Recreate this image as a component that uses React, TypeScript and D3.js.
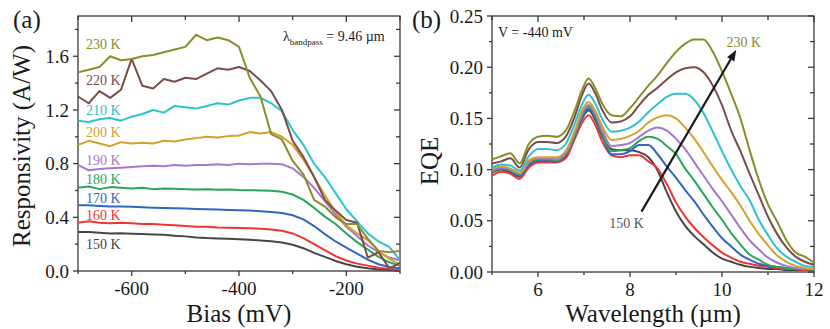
import React from "react";
import * as d3 from "d3";

// temperatures and their line colours
const temps = ["150 K", "160 K", "170 K", "180 K", "190 K", "200 K", "210 K", "220 K", "230 K"];
const colors = ["#464646", "#ef3535", "#3366c2", "#2aa55a", "#a678cc", "#d6a02d", "#2cc3cc", "#7c4b4b", "#8c8c2a"];

// (a) responsivity vs bias
const bias = [-700, -680, -660, -640, -620, -600, -580, -560, -540, -520, -500, -480, -460, -440, -420, -400,
  -380, -360, -340, -320, -300, -280, -260, -240, -220, -200, -180, -160, -140, -120, -100];

const r150 = [0.29, 0.29, 0.285, 0.28, 0.282, 0.278, 0.275, 0.272, 0.27, 0.262, 0.258, 0.25, 0.245, 0.243, 0.24, 0.236,
  0.232, 0.228, 0.222, 0.212, 0.195, 0.17, 0.135, 0.105, 0.075, 0.05, 0.032, 0.02, 0.012, 0.008, 0.005];
const r160 = [0.36, 0.37, 0.36, 0.355, 0.36, 0.355, 0.35, 0.35, 0.345, 0.34, 0.335, 0.33, 0.33, 0.325, 0.322, 0.32,
  0.318, 0.315, 0.31, 0.3, 0.28, 0.245, 0.2, 0.155, 0.11, 0.078, 0.055, 0.04, 0.025, 0.015, 0.01];
const r170 = [0.49, 0.49, 0.485, 0.48, 0.48, 0.478, 0.475, 0.472, 0.47, 0.468, 0.465, 0.462, 0.46, 0.458, 0.455, 0.452,
  0.45, 0.445, 0.44, 0.432, 0.415, 0.385, 0.335, 0.275, 0.22, 0.175, 0.13, 0.085, 0.05, 0.03, 0.02];
const r180 = [0.62, 0.63, 0.61, 0.625, 0.62, 0.615, 0.62, 0.61, 0.615, 0.612, 0.61, 0.608, 0.61, 0.605, 0.607, 0.603,
  0.602, 0.6, 0.598, 0.59, 0.57, 0.53, 0.47, 0.405, 0.35, 0.28, 0.215, 0.16, 0.105, 0.065, 0.04];
const r190 = [0.79, 0.75, 0.76, 0.765, 0.77, 0.775, 0.78, 0.785, 0.78, 0.79, 0.785, 0.79, 0.79, 0.795, 0.79, 0.8,
  0.795, 0.8, 0.8, 0.795, 0.765, 0.7, 0.62, 0.52, 0.42, 0.33, 0.26, 0.19, 0.14, 0.1, 0.08];
const r200 = [0.94, 0.97, 0.95, 0.93, 0.96, 0.95, 0.955, 0.95, 0.97, 0.965, 0.98, 0.99, 1.0, 0.995, 1.005, 1.01,
  1.035, 1.025, 1.035, 1.0, 0.94, 0.83, 0.7, 0.565, 0.44, 0.34, 0.28, 0.23, 0.15, 0.09, 0.05];
const r210 = [1.12, 1.11, 1.13, 1.14, 1.12, 1.15, 1.17, 1.2, 1.18, 1.23, 1.22, 1.21, 1.23, 1.25, 1.24, 1.27,
  1.29, 1.29, 1.25, 1.19, 1.05, 0.94, 0.8, 0.7, 0.58, 0.46, 0.37, 0.28, 0.22, 0.18, 0.08];
const r220 = [1.3, 1.25, 1.34, 1.29, 1.35, 1.58, 1.38, 1.36, 1.43, 1.41, 1.44, 1.43, 1.47, 1.51, 1.5, 1.52,
  1.49, 1.42, 1.34, 1.2, 0.97, 0.85, 0.7, 0.53, 0.45, 0.38, 0.36, 0.1, 0.14, 0.02, 0.06];
const r230 = [1.48, 1.5, 1.52, 1.6, 1.57, 1.58, 1.6, 1.61, 1.63, 1.65, 1.67, 1.76, 1.72, 1.74, 1.72, 1.67,
  1.44, 1.3, 1.02, 0.98, 0.82, 0.72, 0.53, 0.48, 0.4, 0.35, 0.35, 0.24, 0.15, 0.14, 0.15];
const resp = [r150, r160, r170, r180, r190, r200, r210, r220, r230];
// where each temperature label sits (A/W)
const labelAt = [0.163, 0.379, 0.505, 0.646, 0.788, 0.996, 1.159, 1.389, 1.657];

// (b) EQE vs wavelength at -440 mV
const wl = [5.0, 5.2, 5.4, 5.6, 5.8, 6.0, 6.2, 6.4, 6.6, 6.8, 6.95, 7.1, 7.25, 7.4, 7.6, 7.8, 8.0, 8.2, 8.4, 8.6,
  8.8, 9.0, 9.2, 9.4, 9.6, 9.8, 10.0, 10.2, 10.4, 10.6, 10.8, 11.0, 11.2, 11.4, 11.6, 11.8, 12.0];

const e150 = [0.097, 0.1, 0.097, 0.093, 0.104, 0.108, 0.108, 0.108, 0.113, 0.132, 0.149, 0.158, 0.148, 0.132,
  0.12, 0.119, 0.119, 0.117, 0.112, 0.099, 0.078, 0.059, 0.045, 0.035, 0.027, 0.019, 0.013, 0.01, 0.007, 0.005, 0.004, 0.003, 0.003, 0.002, 0.002, 0.002, 0.002];
const e160 = [0.094, 0.098, 0.096, 0.091, 0.102, 0.107, 0.107, 0.107, 0.111, 0.13, 0.145, 0.153, 0.143, 0.127,
  0.114, 0.112, 0.114, 0.114, 0.108, 0.101, 0.086, 0.068, 0.054, 0.043, 0.034, 0.026, 0.019, 0.014, 0.01, 0.008, 0.006, 0.005, 0.004, 0.003, 0.003, 0.002, 0.002];
const e170 = [0.098, 0.101, 0.098, 0.094, 0.105, 0.109, 0.109, 0.108, 0.114, 0.133, 0.15, 0.16, 0.15, 0.133,
  0.115, 0.115, 0.118, 0.124, 0.124, 0.115, 0.103, 0.092, 0.08, 0.069, 0.056, 0.044, 0.033, 0.025, 0.017, 0.012, 0.008, 0.006, 0.005, 0.004, 0.003, 0.003, 0.002];
const e180 = [0.098, 0.101, 0.099, 0.095, 0.106, 0.11, 0.11, 0.109, 0.115, 0.134, 0.152, 0.162, 0.152, 0.135,
  0.118, 0.119, 0.121, 0.128, 0.132, 0.13, 0.123, 0.115, 0.101, 0.089, 0.076, 0.063, 0.051, 0.038, 0.027, 0.017, 0.012, 0.007, 0.005, 0.004, 0.003, 0.003, 0.002];
const e190 = [0.099, 0.102, 0.1, 0.096, 0.107, 0.111, 0.111, 0.11, 0.116, 0.136, 0.154, 0.163, 0.154, 0.138,
  0.123, 0.124, 0.126, 0.132, 0.138, 0.141, 0.138, 0.13, 0.12, 0.107, 0.094, 0.081, 0.069, 0.056, 0.043, 0.031, 0.022, 0.014, 0.009, 0.006, 0.004, 0.003, 0.003];
const e200 = [0.101, 0.103, 0.101, 0.097, 0.109, 0.112, 0.112, 0.112, 0.118, 0.138, 0.157, 0.166, 0.157, 0.142,
  0.129, 0.13, 0.133, 0.138, 0.146, 0.151, 0.153, 0.15, 0.141, 0.13, 0.117, 0.103, 0.09, 0.078, 0.065, 0.05, 0.037, 0.026, 0.016, 0.01, 0.006, 0.004, 0.003];
const e210 = [0.102, 0.105, 0.104, 0.099, 0.113, 0.12, 0.12, 0.119, 0.125, 0.145, 0.163, 0.173, 0.164, 0.149,
  0.137, 0.138, 0.141, 0.147, 0.156, 0.164, 0.171, 0.174, 0.174, 0.168, 0.155, 0.137, 0.118, 0.1, 0.084, 0.07, 0.051, 0.036, 0.023, 0.015, 0.01, 0.006, 0.005];
const e220 = [0.106, 0.108, 0.111, 0.102, 0.12, 0.127, 0.127, 0.126, 0.132, 0.152, 0.172, 0.184, 0.174, 0.158,
  0.146, 0.147, 0.152, 0.163, 0.173, 0.18, 0.188, 0.195, 0.199, 0.2, 0.195, 0.182, 0.163, 0.138, 0.118, 0.096, 0.075, 0.054, 0.037, 0.024, 0.015, 0.01, 0.007];
const e230 = [0.11, 0.113, 0.116, 0.106, 0.125, 0.132, 0.133, 0.132, 0.138, 0.158, 0.177, 0.189, 0.179, 0.164,
  0.153, 0.152, 0.16, 0.171, 0.182, 0.192, 0.204, 0.215, 0.223, 0.227, 0.227, 0.215, 0.196, 0.174, 0.15, 0.119, 0.09, 0.066, 0.049, 0.031, 0.019, 0.015, 0.009];
const eqe = [e150, e160, e170, e180, e190, e200, e210, e220, e230];

// ticks
const biasTicks = [-600, -400, -200];
const biasMinor = [-700, -500, -300, -100];
const respTicks = [0, 0.4, 0.8, 1.2, 1.6];
const respMinor = [0.2, 0.6, 1.0, 1.4, 1.8];
const wlTicks = [6, 8, 10, 12];
const wlMinor = [5, 7, 9, 11];
const eqeTicks = [0, 0.05, 0.1, 0.15, 0.2, 0.25];
const eqeMinor = [0.025, 0.075, 0.125, 0.175, 0.225];

// arrow in panel (b), wavelength / EQE
const arrowFrom = [8.25, 0.059];
const arrowTo = [10.31, 0.217];

const axisColor = "#3a3a3a";
const ink = "#1a1a1a";

const xa = d3.scaleLinear().domain([-700, -100]).range([78, 400]);
const ya = d3.scaleLinear().domain([0, 1.9]).range([271, 16]);
const xb = d3.scaleLinear().domain([5, 12]).range([492, 814]);
const yb = d3.scaleLinear().domain([0, 0.25]).range([272, 16]);

function Frame({ x, y, xMajor, xMinor, yMajor, yMinor, xFmt, yFmt }) {
  const [x0, x1] = x.range();
  const [y0, y1] = y.range(); // y0 bottom, y1 top
  return (
    <g>
      <g stroke={axisColor} strokeWidth={1.3} fill="none">
        <rect x={x0} y={y1} width={x1 - x0} height={y0 - y1} />
        {xMajor.map(v => (
          <g key={"xm" + v}>
            <line x1={x(v)} x2={x(v)} y1={y0} y2={y0 + 5} />
            <line x1={x(v)} x2={x(v)} y1={y1} y2={y1 + 6} />
          </g>
        ))}
        {xMinor.map(v => (
          <g key={"xn" + v}>
            <line x1={x(v)} x2={x(v)} y1={y0} y2={y0 + 3} />
            <line x1={x(v)} x2={x(v)} y1={y1} y2={y1 + 4} />
          </g>
        ))}
        {yMajor.map(v => (
          <g key={"ym" + v}>
            <line x1={x0 - 5} x2={x0} y1={y(v)} y2={y(v)} />
            <line x1={x1 - 6} x2={x1} y1={y(v)} y2={y(v)} />
          </g>
        ))}
        {yMinor.map(v => (
          <g key={"yn" + v}>
            <line x1={x0 - 3} x2={x0} y1={y(v)} y2={y(v)} />
            <line x1={x1 - 4} x2={x1} y1={y(v)} y2={y(v)} />
          </g>
        ))}
      </g>
      {xMajor.map(v => (
        <text key={"xt" + v} x={x(v)} y={y0 + 24} textAnchor="middle" fill={ink} fontSize={19}>{xFmt(v)}</text>
      ))}
      {yMajor.map(v => (
        <text key={"yt" + v} x={x0 - 9} y={y(v)} dy="0.35em" textAnchor="end" fill={ink} fontSize={19}>{yFmt(v)}</text>
      ))}
    </g>
  );
}

export default function App() {
  const lineA = d3.line<number>().x((_, i) => xa(bias[i])).y(d => ya(d));
  const lineB = d3.line<number>().x((_, i) => xb(wl[i])).y(d => yb(d)).curve(d3.curveMonotoneX);

  const ax1 = xb(arrowFrom[0]), ay1 = yb(arrowFrom[1]);
  const ax2 = xb(arrowTo[0]), ay2 = yb(arrowTo[1]);
  const ang = Math.atan2(ay2 - ay1, ax2 - ax1);
  const hl = 11, hw = 4.2;
  const bx = ax2 - hl * Math.cos(ang), by = ay2 - hl * Math.sin(ang);
  const head = [
    [ax2, ay2],
    [bx + hw * Math.sin(ang), by - hw * Math.cos(ang)],
    [bx - hw * Math.sin(ang), by + hw * Math.cos(ang)]
  ];

  return (
    <svg width={830} height={329} style={{ position: "absolute", left: 0, top: 0, background: "#fff" }}>
      <style>{"text { font-family: 'Liberation Serif', 'Times New Roman', 'DejaVu Serif', serif; }"}</style>
      {/* panel (a) */}
      <Frame x={xa} y={ya} xMajor={biasTicks} xMinor={biasMinor} yMajor={respTicks} yMinor={respMinor}
        xFmt={v => String(v)} yFmt={d3.format(".1f")} />
      <g fill="none" strokeWidth={2} strokeLinejoin="round">
        {resp.map((s, i) => <path key={temps[i]} d={lineA(s)} stroke={colors[i]} />)}
      </g>
      {temps.map((t, i) => (
        <text key={"la" + t} x={xa(-685)} y={ya(labelAt[i])} fill={colors[i]} fontSize={14}>{t}</text>
      ))}
      <text x={283} y={41} fontSize={14} fill={ink}>
        λ<tspan dy={4} fontSize={9}>bandpass</tspan><tspan dy={-4}> = 9.46 µm</tspan>
      </text>
      <text x={13} y={28} fontSize={25} fill={ink}>(a)</text>
      <text x={239} y={322} fontSize={25} textAnchor="middle" fill={ink}>Bias (mV)</text>
      <text transform="translate(30,146) rotate(-90)" fontSize={25} textAnchor="middle" fill={ink}>
        Responsivity (A/W)
      </text>

      {/* panel (b) */}
      <Frame x={xb} y={yb} xMajor={wlTicks} xMinor={wlMinor} yMajor={eqeTicks} yMinor={eqeMinor}
        xFmt={v => String(v)} yFmt={d3.format(".2f")} />
      <g fill="none" strokeWidth={2} strokeLinejoin="round">
        {eqe.map((s, i) => <path key={temps[i]} d={lineB(s)} stroke={colors[i]} />)}
      </g>
      <line x1={ax1} y1={ay1} x2={bx} y2={by} stroke={ink} strokeWidth={2.2} />
      <polygon points={head.map(p => p.join(",")).join(" ")} fill={ink} />
      <text x={xb(7.55)} y={yb(0.043)} fontSize={14} fill="#555">150 K</text>
      <text x={xb(10.1)} y={yb(0.22)} fontSize={14} fill={colors[8]}>230 K</text>
      <text x={498} y={37} fontSize={14} fill={ink}>V = -440 mV</text>
      <text x={412} y={28} fontSize={25} fill={ink}>(b)</text>
      <text x={653} y={322} fontSize={25} textAnchor="middle" fill={ink}>Wavelength (µm)</text>
      <text transform="translate(438,161) rotate(-90)" fontSize={25} textAnchor="middle" fill={ink}>EQE</text>
    </svg>
  );
}
